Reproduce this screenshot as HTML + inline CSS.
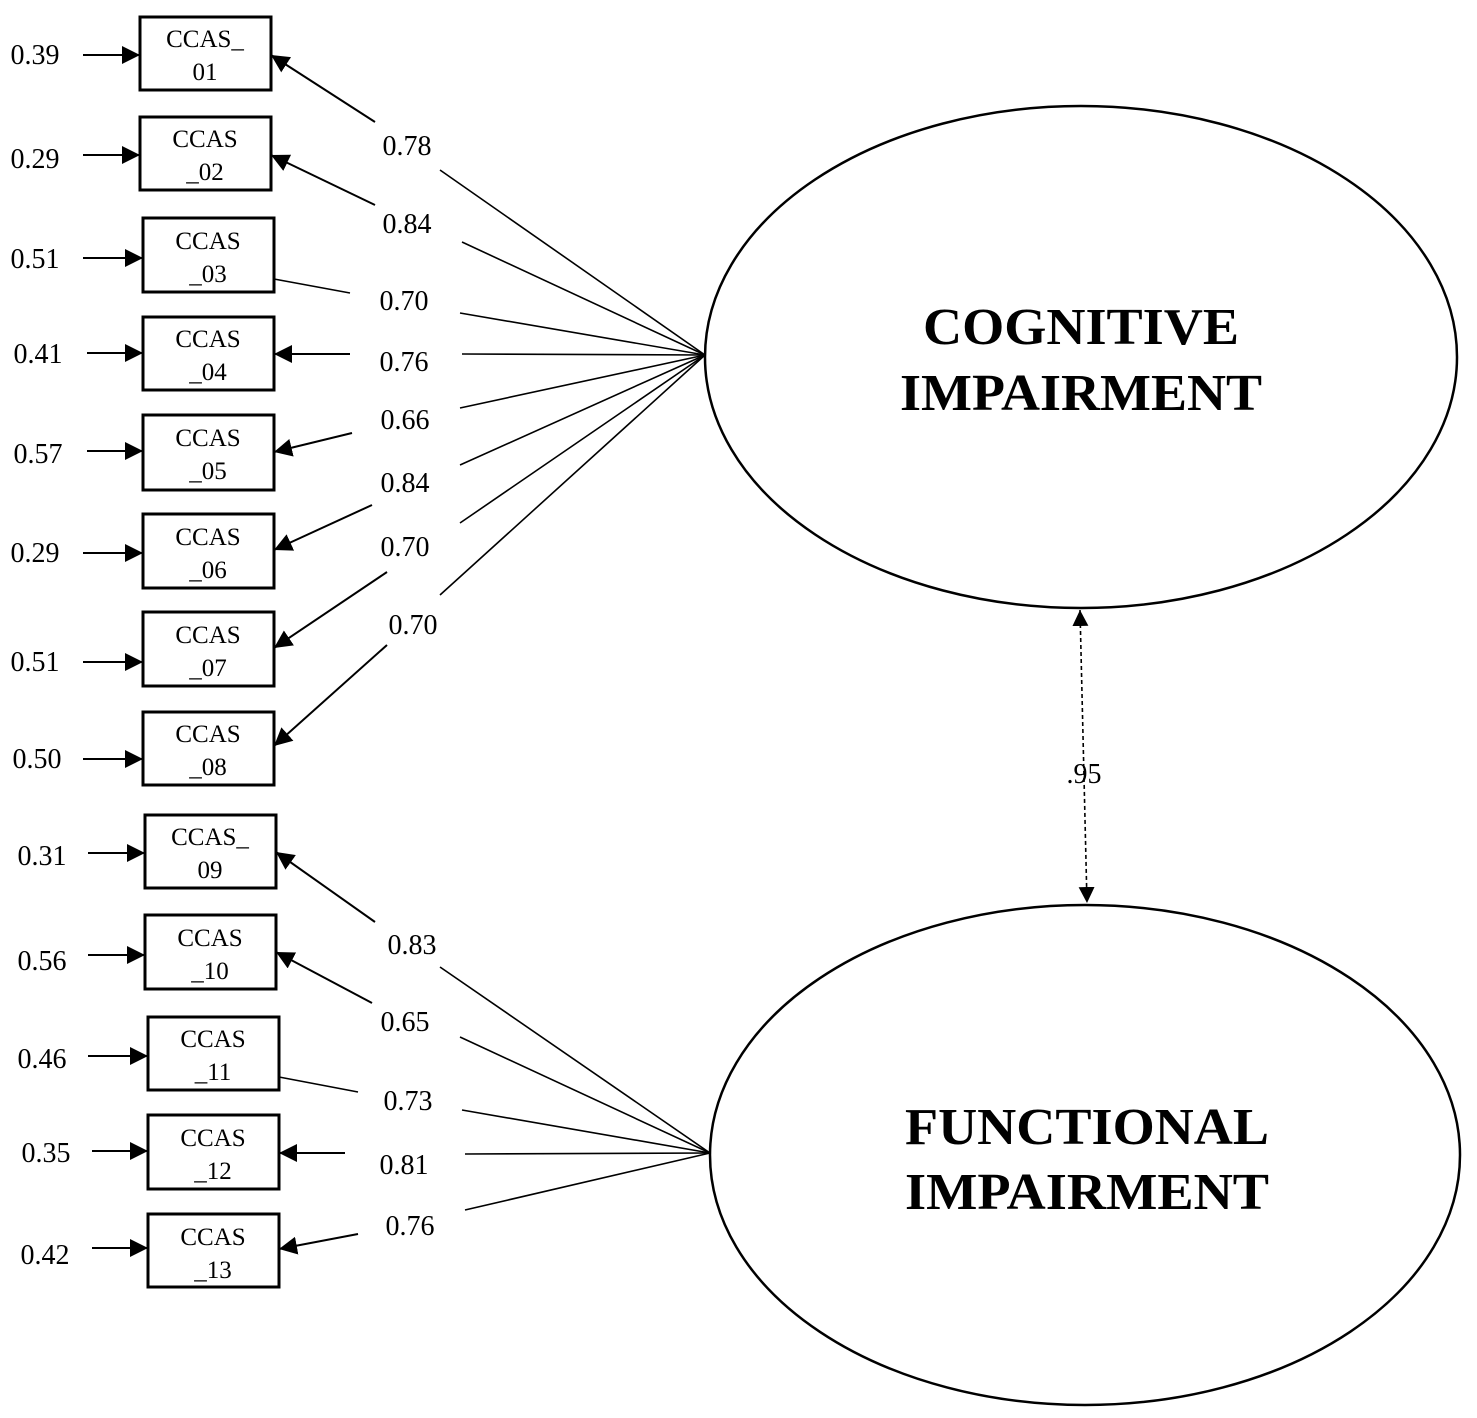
<!DOCTYPE html>
<html><head><meta charset="utf-8"><style>html,body{margin:0;padding:0;background:#fff}svg{display:block}</style></head>
<body>
<svg width="1477" height="1418" viewBox="0 0 1477 1418" xmlns="http://www.w3.org/2000/svg" font-family="Liberation Serif, serif">
<defs>
<marker id="a" viewBox="0 0 10 10" refX="10" refY="5" markerWidth="18" markerHeight="18" markerUnits="userSpaceOnUse" orient="auto"><path d="M0,0 L10,5 L0,10 z" fill="#000"/></marker>
<marker id="s" viewBox="0 0 10 10" refX="10" refY="5" markerWidth="16" markerHeight="16" markerUnits="userSpaceOnUse" orient="auto-start-reverse"><path d="M0,0 L10,5 L0,10 z" fill="#000"/></marker>
</defs>
<g fill="none" stroke="#000" stroke-width="3">
<rect x="140" y="17" width="131" height="73"/>
<rect x="140" y="117" width="131" height="73"/>
<rect x="143" y="218" width="131" height="74"/>
<rect x="143" y="317" width="131" height="73"/>
<rect x="143" y="415" width="131" height="75"/>
<rect x="143" y="514" width="131" height="74"/>
<rect x="143" y="612" width="131" height="74"/>
<rect x="143" y="712" width="131" height="73"/>
<rect x="145" y="815" width="131" height="73"/>
<rect x="145" y="915" width="131" height="74"/>
<rect x="148" y="1017" width="131" height="73"/>
<rect x="148" y="1115" width="131" height="74"/>
<rect x="148" y="1214" width="131" height="73"/>
<ellipse cx="1081" cy="357" rx="376" ry="251" stroke-width="2.5"/>
<ellipse cx="1085" cy="1155" rx="375" ry="250" stroke-width="2.5"/>
</g>
<g stroke="#000" stroke-width="2" fill="none" marker-end="url(#a)">
<line x1="83" y1="55" x2="140" y2="55"/>
<line x1="83" y1="155" x2="140" y2="155"/>
<line x1="83" y1="258" x2="143" y2="258"/>
<line x1="87" y1="353" x2="143" y2="353"/>
<line x1="87" y1="451" x2="143" y2="451"/>
<line x1="83" y1="553" x2="143" y2="553"/>
<line x1="83" y1="662" x2="143" y2="662"/>
<line x1="83" y1="759" x2="143" y2="759"/>
<line x1="88" y1="853" x2="145" y2="853"/>
<line x1="88" y1="955" x2="145" y2="955"/>
<line x1="88" y1="1056" x2="148" y2="1056"/>
<line x1="92" y1="1151" x2="148" y2="1151"/>
<line x1="92" y1="1248" x2="148" y2="1248"/>
<line x1="375" y1="122" x2="271" y2="55"/>
<line x1="375" y1="205" x2="271" y2="155"/>
<line x1="350" y1="354" x2="274" y2="354"/>
<line x1="352" y1="433" x2="274" y2="452"/>
<line x1="372" y1="505" x2="274" y2="550"/>
<line x1="387" y1="572" x2="274" y2="648"/>
<line x1="387" y1="645" x2="274" y2="746"/>
<line x1="375" y1="922" x2="276" y2="852"/>
<line x1="372" y1="1003" x2="276" y2="952"/>
<line x1="345" y1="1153" x2="279" y2="1153"/>
<line x1="358" y1="1234" x2="279" y2="1249"/>
</g>
<g stroke="#000" stroke-width="1.6" fill="none">
<line x1="440" y1="170" x2="705" y2="355"/>
<line x1="462" y1="242" x2="705" y2="355"/>
<line x1="274" y1="279" x2="350" y2="293"/>
<line x1="460" y1="313" x2="705" y2="355"/>
<line x1="462" y1="354" x2="705" y2="355"/>
<line x1="460" y1="408" x2="705" y2="355"/>
<line x1="460" y1="465" x2="705" y2="355"/>
<line x1="460" y1="523" x2="705" y2="355"/>
<line x1="440" y1="595" x2="705" y2="355"/>
<line x1="440" y1="967" x2="710" y2="1153"/>
<line x1="460" y1="1037" x2="710" y2="1153"/>
<line x1="279" y1="1077" x2="358" y2="1092"/>
<line x1="462" y1="1110" x2="710" y2="1153"/>
<line x1="465" y1="1154" x2="710" y2="1153"/>
<line x1="465" y1="1210" x2="710" y2="1153"/>
<line x1="1080" y1="610" x2="1087" y2="903" stroke-dasharray="4,3" marker-start="url(#s)" marker-end="url(#s)"/>
</g>
<g font-size="28" fill="#000" text-anchor="middle">
<text x="35" y="64">0.39</text>
<text x="35" y="168">0.29</text>
<text x="35" y="268">0.51</text>
<text x="38" y="363">0.41</text>
<text x="38" y="463">0.57</text>
<text x="35" y="562">0.29</text>
<text x="35" y="671">0.51</text>
<text x="37" y="768">0.50</text>
<text x="42" y="865">0.31</text>
<text x="42" y="970">0.56</text>
<text x="42" y="1068">0.46</text>
<text x="46" y="1162">0.35</text>
<text x="45" y="1264">0.42</text>
<text x="407" y="155">0.78</text>
<text x="407" y="233">0.84</text>
<text x="404" y="310">0.70</text>
<text x="404" y="371">0.76</text>
<text x="405" y="429">0.66</text>
<text x="405" y="492">0.84</text>
<text x="405" y="556">0.70</text>
<text x="413" y="634">0.70</text>
<text x="412" y="954">0.83</text>
<text x="405" y="1031">0.65</text>
<text x="408" y="1110">0.73</text>
<text x="404" y="1174">0.81</text>
<text x="410" y="1235">0.76</text>
<text x="1084" y="783">.95</text>
</g>
<g font-size="25" fill="#000" text-anchor="middle">
<text x="205" y="47">CCAS_</text><text x="205" y="80">01</text>
<text x="205" y="147">CCAS</text><text x="205" y="180">_02</text>
<text x="208" y="249">CCAS</text><text x="208" y="282">_03</text>
<text x="208" y="347">CCAS</text><text x="208" y="380">_04</text>
<text x="208" y="446">CCAS</text><text x="208" y="479">_05</text>
<text x="208" y="545">CCAS</text><text x="208" y="578">_06</text>
<text x="208" y="643">CCAS</text><text x="208" y="676">_07</text>
<text x="208" y="742">CCAS</text><text x="208" y="775">_08</text>
<text x="210" y="845">CCAS_</text><text x="210" y="878">09</text>
<text x="210" y="946">CCAS</text><text x="210" y="979">_10</text>
<text x="213" y="1047">CCAS</text><text x="213" y="1080">_11</text>
<text x="213" y="1146">CCAS</text><text x="213" y="1179">_12</text>
<text x="213" y="1245">CCAS</text><text x="213" y="1278">_13</text>
</g>
<g font-size="52" font-weight="bold" fill="#000" text-anchor="middle">
<text x="1081" y="344" textLength="316" lengthAdjust="spacingAndGlyphs">COGNITIVE</text>
<text x="1081" y="410" textLength="362" lengthAdjust="spacingAndGlyphs">IMPAIRMENT</text>
<text x="1087" y="1144" textLength="364" lengthAdjust="spacingAndGlyphs">FUNCTIONAL</text>
<text x="1087" y="1209" textLength="364" lengthAdjust="spacingAndGlyphs">IMPAIRMENT</text>
</g>
</svg>
</body></html>
